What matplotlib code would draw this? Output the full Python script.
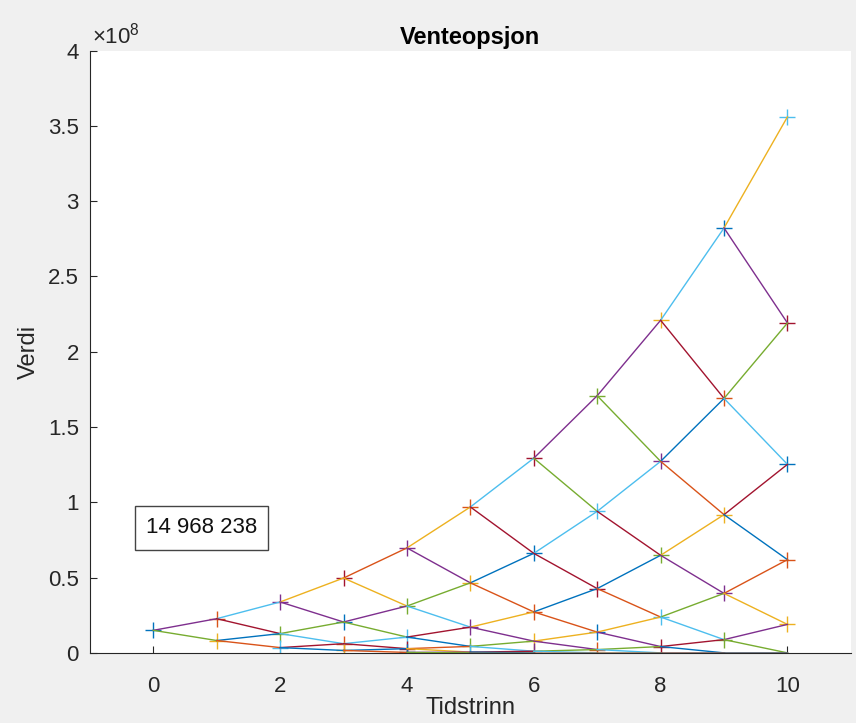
import matplotlib
matplotlib.use('Agg')
import matplotlib.pyplot as plt

plt.rcParams['font.family'] = ['Liberation Sans', 'DejaVu Sans']
plt.rcParams['mathtext.fontset'] = 'custom'
plt.rcParams['mathtext.rm'] = 'Liberation Sans'

# option value at each node, per time step (in units of 1e8)
t0 = [0.1497]
t1 = [0.227, 0.082]
t2 = [0.338, 0.128, 0.035]
t3 = [0.497, 0.205, 0.061, 0.016]
t4 = [0.697, 0.311, 0.105, 0.028, 0.003]
t5 = [0.969, 0.465, 0.171, 0.043, 0.005, 0]
t6 = [1.293, 0.661, 0.272, 0.078, 0.011, 0, 0]
t7 = [1.708, 0.940, 0.427, 0.138, 0.022, 0, 0, 0]
t8 = [2.209, 1.272, 0.648, 0.238, 0.042, 0, 0, 0, 0]
t9 = [2.822, 1.690, 0.918, 0.395, 0.088, 0, 0, 0, 0, 0]
t10 = [3.560, 2.191, 1.252, 0.619, 0.189, 0, 0, 0, 0, 0, 0]
tree = [t0, t1, t2, t3, t4, t5, t6, t7, t8, t9, t10]

start_value = '14 968 238'
y_ticks = [0, 0.5, 1, 1.5, 2, 2.5, 3, 3.5, 4]
y_labels = ['0', '0.5', '1', '1.5', '2', '2.5', '3', '3.5', '4']
x_ticks = [0, 2, 4, 6, 8, 10]

colors = ['#0072BD', '#D95319', '#EDB120', '#7E2F8E', '#77AC30', '#4DBEEE', '#A2142F']

fig = plt.figure(figsize=(8.56, 7.23), dpi=100, facecolor='#f0f0f0')
ax = fig.add_axes([0.105, 0.097, 0.889, 0.833])
ax.set_facecolor('white')

k = 0
# markers for the nodes
for t, col in enumerate(tree):
    for v in col:
        if v > 0:
            ax.plot(t, v * 1e8, '+', color=colors[k % 7], ms=12, mew=1.0)
            k += 1

# branches up and down
for t in range(10):
    for j in range(t + 1):
        ax.plot([t, t + 1], [tree[t][j] * 1e8, tree[t + 1][j] * 1e8],
                color=colors[k % 7], lw=1.0)
        k += 1
        ax.plot([t, t + 1], [tree[t][j] * 1e8, tree[t + 1][j + 1] * 1e8],
                color=colors[k % 7], lw=1.0)
        k += 1

ax.set_xlim(-1, 11)
ax.set_ylim(0, 4e8)
ax.set_xticks(x_ticks)
ax.set_yticks([v * 1e8 for v in y_ticks])
ax.set_yticklabels(y_labels)

for s in ['top', 'right']:
    ax.spines[s].set_visible(False)
for s in ['left', 'bottom']:
    ax.spines[s].set_color('#262626')
    ax.spines[s].set_linewidth(0.8)
ax.tick_params(axis='both', direction='in', colors='#262626', labelsize=16, length=5)
ax.tick_params(axis='x', pad=17)
ax.tick_params(axis='y', pad=8)

ax.text(0.003, 1.003, r'$\times10^{8}$', transform=ax.transAxes, fontsize=16,
        color='#262626', ha='left', va='bottom')

ax.text(-0.12, 0.83e8, start_value, fontsize=16, color='#111111', va='center', ha='left',
        bbox=dict(boxstyle='square,pad=0.5', fc='white', ec='#444444', lw=1.0))

ax.set_title('Venteopsjon', fontsize=17, fontweight='bold', pad=5)
ax.set_xlabel('Tidstrinn', fontsize=17, color='#262626', labelpad=0)
ax.set_ylabel('Verdi', fontsize=17, color='#262626', labelpad=6)

fig.savefig('out.png', dpi=100, facecolor=fig.get_facecolor())
